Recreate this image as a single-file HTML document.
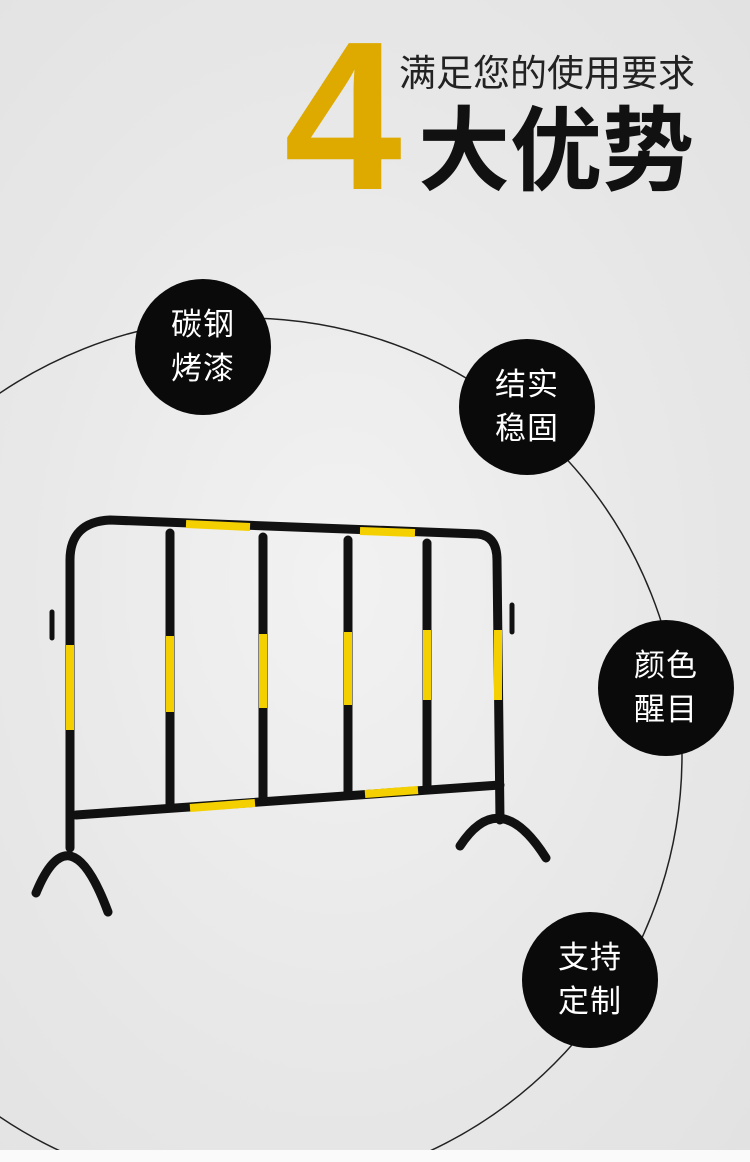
<!DOCTYPE html>
<html><head><meta charset="utf-8"><style>
html,body{margin:0;padding:0}
body{width:750px;height:1162px;position:relative;overflow:hidden;background:radial-gradient(ellipse at 45% 50%,#f2f2f2 0%,#e8e8e8 55%,#e2e2e2 100%);font-family:"Liberation Sans","Noto Sans CJK SC",sans-serif}
.t{position:absolute;white-space:nowrap}
.c{position:absolute;width:136px;height:136px;border-radius:50%;background:#0a0a0a;color:#fff;font-size:31px;line-height:44px;text-align:center;display:flex;align-items:center;justify-content:center;letter-spacing:1px}
</style></head><body>
<div class="t" style="left:284px;top:10px;font-size:212px;font-weight:bold;color:#deaa00;line-height:212px">4</div>
<div class="t" style="left:399px;top:52px;font-size:37px;color:#222;line-height:44px">满足您的使用要求</div>
<div class="t" style="left:418px;top:102px;font-size:92px;font-weight:bold;color:#111;line-height:100px">大优势</div>
<svg style="position:absolute;left:0;top:0" width="750" height="1162">
<circle cx="245" cy="755" r="437" fill="none" stroke="#222" stroke-width="1.5"/>
<g fill="none" stroke-linecap="round" stroke-linejoin="round">
<g stroke="#111" stroke-width="9">
<path d="M70 848 L70 560 Q70 522 110 520 L478 534 Q497 536 497 560 L500 820"/>
<path d="M76 815 L500 785"/>
<path d="M170 533 L170 806 M263 537 L263 800 M348 540 L348 792 M427 543 L427 786"/>
<path d="M36 893 Q70 810 108 912"/>
<path d="M460 846 Q500 785 546 858"/>
<path d="M52 612 L52 638 M512 605 L512 632" stroke-width="5"/>
</g>
<g stroke="#f5d000" stroke-width="8" stroke-linecap="butt">
<path d="M186 524 L250 527 M360 531 L415 533"/>
<path d="M190 808 L255 803 M365 794 L418 790"/>
<path d="M170 636 L170 712 M263 634 L263 708 M348 632 L348 705 M427 630 L427 700 M70 645 L70 730 M498 630 L498 700"/>
</g></g>
</svg>
<div class="c" style="left:135px;top:279px">碳钢<br>烤漆</div>
<div class="c" style="left:459px;top:339px">结实<br>稳固</div>
<div class="c" style="left:598px;top:620px">颜色<br>醒目</div>
<div class="c" style="left:522px;top:912px">支持<br>定制</div>
<div style="position:absolute;left:0;top:1150px;width:750px;height:12px;background:#fafafa"></div>
</body></html>
